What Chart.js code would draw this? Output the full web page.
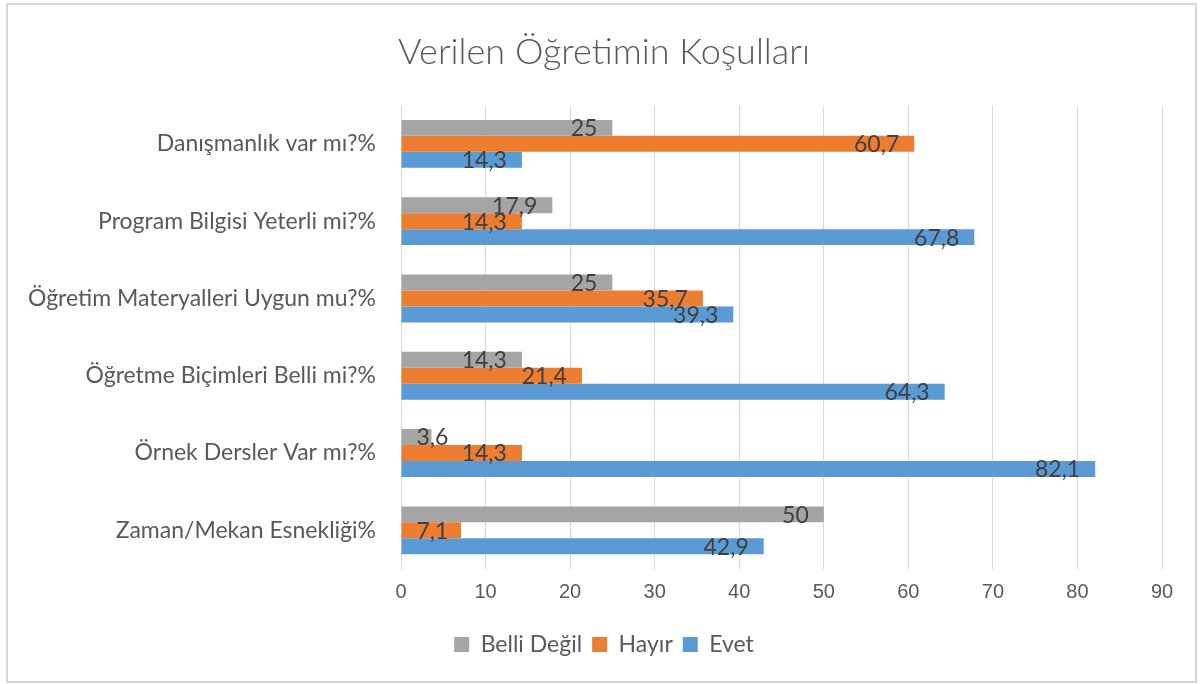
<!DOCTYPE html>
<html>
<head>
<meta charset="utf-8">
<script src="https://cdn.jsdelivr.net/npm/chart.js@4.4.1/dist/chart.umd.min.js"></script>
<style>
  html, body { margin: 0; padding: 0; background: #ffffff; }
  #wrap { position: relative; width: 1200px; height: 684px; }
</style>
</head>
<body>
<div id="wrap"><canvas id="c" width="1200" height="684"></canvas></div>
<script>
const titleText = "Verilen Öğretimin Koşulları";
const categories = [
  "Danışmanlık var mı?%",
  "Program Bilgisi Yeterli mi?%",
  "Öğretim Materyalleri Uygun mu?%",
  "Öğretme Biçimleri Belli mi?%",
  "Örnek Dersler Var mı?%",
  "Zaman/Mekan Esnekliği%"
];
const seriesNames = ["Belli Değil", "Hayır", "Evet"];
const belliDegil = [25, 17.9, 25, 14.3, 3.6, 50];
const hayir = [60.7, 14.3, 35.7, 21.4, 14.3, 7.1];
const evet = [14.3, 67.8, 39.3, 64.3, 82.1, 42.9];
const xTicks = [0, 10, 20, 30, 40, 50, 60, 70, 80, 90];

const colors = ["#A5A5A5", "#ED7D31", "#5B9BD5"];
const textColor = "#595959";
const mainFont = "Lato, 'Open Sans', sans-serif";

const borderPlugin = {
  id: 'frame',
  beforeDraw(chart) {
    const ctx = chart.ctx;
    ctx.save();
    ctx.fillStyle = '#ffffff';
    ctx.fillRect(0, 0, chart.width, chart.height);
    ctx.strokeStyle = '#d6d6d6';
    ctx.lineWidth = 2;
    ctx.strokeRect(7, 4, 1189, 678);
    ctx.restore();
  }
};

// shift title and legend centre to the right, as in the reference
const shiftPlugin = {
  id: 'shiftBlocks',
  afterLayout(chart) {
    if (chart.titleBlock) { chart.titleBlock.left += 46; }
    if (chart.legend) { chart.legend.left += 46; }
  }
};

const labelPlugin = {
  id: 'barLabels',
  afterDatasetsDraw(chart) {
    const ctx = chart.ctx;
    ctx.save();
    ctx.font = "23px " + mainFont;
    ctx.fillStyle = "#404040";
    ctx.textAlign = "right";
    ctx.textBaseline = "middle";
    const margin = 15;
    chart.data.datasets.forEach((ds, di) => {
      const meta = chart.getDatasetMeta(di);
      meta.data.forEach((bar, i) => {
        const txt = String(ds.data[i]).replace('.', ',');
        const w = ctx.measureText(txt).width;
        const boxRight = Math.max(bar.x, bar.base + w + margin * 2);
        ctx.fillText(txt, boxRight - margin, bar.y + 1);
      });
    });
    ctx.restore();
  }
};

new Chart(document.getElementById('c'), {
  type: 'bar',
  data: {
    labels: categories,
    datasets: [
      { label: seriesNames[0], data: belliDegil, backgroundColor: colors[0] },
      { label: seriesNames[1], data: hayir, backgroundColor: colors[1] },
      { label: seriesNames[2], data: evet, backgroundColor: colors[2] }
    ]
  },
  options: {
    indexAxis: 'y',
    responsive: false,
    animation: false,
    devicePixelRatio: 1,
    barPercentage: 1,
    categoryPercentage: 0.62,
    layout: { padding: { left: 0, right: 38, top: 0, bottom: 18 } },
    plugins: {
      title: {
        display: true,
        text: titleText,
        color: textColor,
        font: { family: mainFont, size: 36, weight: '300' },
        padding: { top: 31, bottom: 31 }
      },
      legend: {
        position: 'bottom',
        labels: {
          color: textColor,
          font: { family: mainFont, size: 23 },
          boxWidth: 15,
          boxHeight: 15,
          padding: 10
        }
      },
      tooltip: { enabled: false }
    },
    scales: {
      x: {
        min: 0,
        max: 90,
        afterBuildTicks(scale) { scale.ticks = xTicks.map(v => ({ value: v })); },
        afterFit(scale) { scale.height = 54; },
        grid: { color: '#d9d9d9', lineWidth: 1, drawTicks: false },
        border: { display: false },
        ticks: {
          color: textColor,
          padding: 11,
          font: { family: "'Liberation Sans Narrow', 'Liberation Sans', sans-serif", size: 20 }
        }
      },
      y: {
        afterFit(scale) { scale.width = 401; },
        grid: { display: false, drawTicks: false },
        border: { display: false },
        ticks: {
          color: textColor,
          padding: 25,
          font: { family: mainFont, size: 23 }
        }
      }
    }
  },
  plugins: [borderPlugin, shiftPlugin, labelPlugin]
});
</script>
</body>
</html>
